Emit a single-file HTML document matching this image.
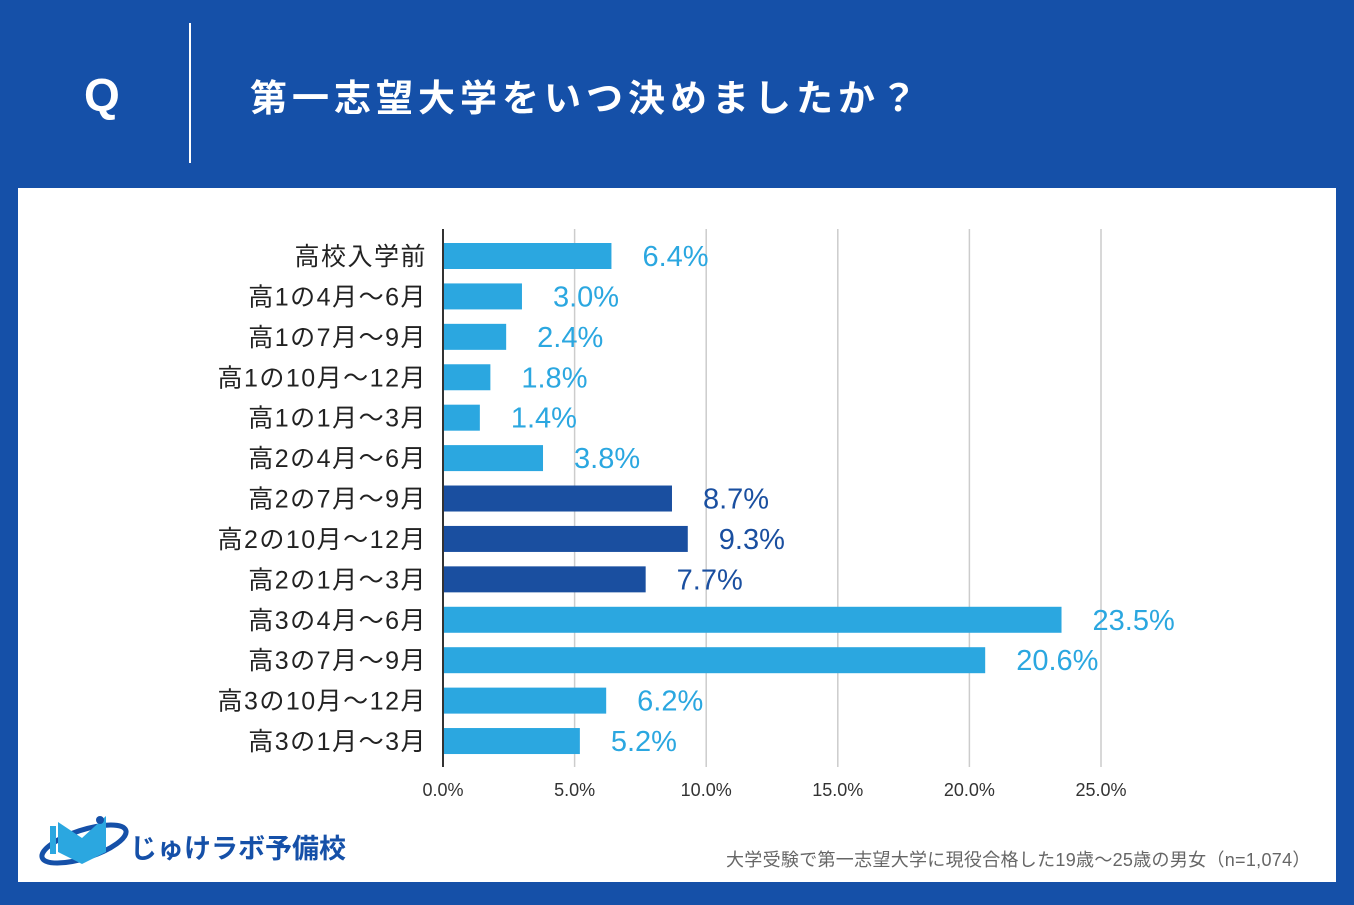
<!DOCTYPE html>
<html><head><meta charset="utf-8"><style>
body{margin:0;width:1354px;height:905px;background:#1550a8;position:relative;overflow:hidden;font-family:"Liberation Sans","Noto Sans CJK JP",sans-serif}
.abs{position:absolute}
</style></head><body>
<div class="abs" style="left:84px;top:68px;color:#fff;font-size:46px;font-weight:bold">Q</div>
<div class="abs" style="left:189px;top:23px;width:2px;height:140px;background:#fff"></div>
<div class="abs" style="left:250px;top:68px;color:#fff;font-size:37px;font-weight:bold;letter-spacing:5px">第一志望大学をいつ決めましたか？</div>
<div class="abs" style="left:18px;top:188px;width:1318px;height:694px;background:#fff"></div>
<svg class="abs" style="left:0;top:0" width="1354" height="905" id="chart"></svg>
<svg class="abs" style="left:38px;top:808px" width="92" height="60">
<ellipse cx="46" cy="36" rx="44" ry="14" fill="none" stroke="#1550a8" stroke-width="5" transform="rotate(-18 46 36)"/>
<path d="M20 14 L44 30 L68 8 L68 44 L44 56 L20 44Z" fill="#2ba7e0"/>
<rect x="12" y="18" width="6" height="28" fill="#2ba7e0"/>
<circle cx="62" cy="12" r="4" fill="#1550a8"/>
</svg>
<div class="abs" style="left:130px;top:827px;color:#1550a8;font-size:27px;font-weight:bold">じゅけラボ予備校</div>
<div class="abs" style="left:726px;top:846px;color:#666;font-size:18px;letter-spacing:0.3px">大学受験で第一志望大学に現役合格した19歳～25歳の男女（n=1,074）</div>
<script>
const categories=["高校入学前","高1の4月～6月","高1の7月～9月","高1の10月～12月","高1の1月～3月","高2の4月～6月","高2の7月～9月","高2の10月～12月","高2の1月～3月","高3の4月～6月","高3の7月～9月","高3の10月～12月","高3の1月～3月"];
const values=[6.4,3.0,2.4,1.8,1.4,3.8,8.7,9.3,7.7,23.5,20.6,6.2,5.2];
const highlight=[0,0,0,0,0,0,1,1,1,0,0,0,0];
const ticks=[0,5,10,15,20,25];
const svg=document.getElementById('chart');const NS='http://www.w3.org/2000/svg';
const x=v=>443+v*26.32;const y=i=>256+i*40.42;
function mk(t,a){const e=document.createElementNS(NS,t);for(const k in a)e.setAttribute(k,a[k]);svg.appendChild(e);return e;}
ticks.forEach(t=>{if(t>0){const l=mk('line',{x1:x(t),x2:x(t),y1:229,y2:767,stroke:'#ccc','stroke-width':1.5});

}
const tx=mk('text',{x:x(t),y:796,'text-anchor':'middle','font-size':18,fill:'#333'});tx.textContent=t.toFixed(1)+'%';

});
categories.forEach((c,i)=>{const col=highlight[i]?'#1a4fa0':'#2ba7e0';
const r=mk('rect',{x:443,y:y(i)-13,width:x(values[i])-443,height:26,fill:col});


const lb=mk('text',{x:427,y:y(i)+9,'text-anchor':'end','font-size':25,'letter-spacing':1.5,fill:'#222'});lb.textContent=c;


const vl=mk('text',{x:x(values[i])+31,y:y(i)+10,'font-size':29,fill:col});vl.textContent=values[i].toFixed(1)+'%';

});
const ax=mk('line',{x1:443,x2:443,y1:229,y2:767,stroke:'#333','stroke-width':2});


</script>
</body></html>
